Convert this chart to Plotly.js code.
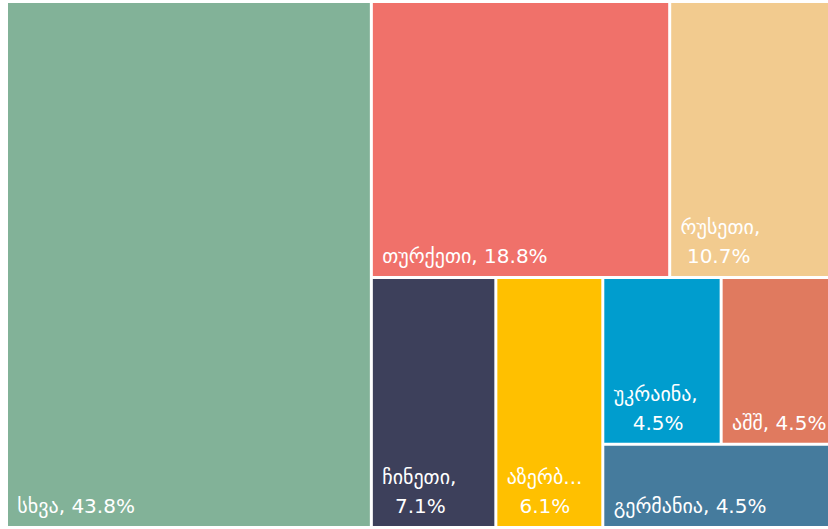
<!DOCTYPE html>
<html>
<head>
<meta charset="utf-8">
<script src="https://cdn.plot.ly/plotly-3.0.1.min.js"></script>
<style>html,body{margin:0;padding:0;background:#fff;overflow:hidden;}#chart{width:838px;height:529px;}</style>
</head>
<body>
<div id="chart"></div>
<script>
// Countries (leaves) and their shares, %
var countries = ["სხვა", "თურქეთი", "რუსეთი", "ჩინეთი", "აზერბაიჯანი", "უკრაინა", "აშშ", "გერმანია"];
var shownNames = ["სხვა", "თურქეთი", "რუსეთი", "ჩინეთი", "აზერბ...", "უკრაინა", "აშშ", "გერმანია"];
var shares = [43.8, 18.8, 10.7, 7.1, 6.1, 4.5, 4.5, 4.5];
var colors = ["#82B298", "#F0716A", "#F2CB8F", "#3D405B", "#FFC000", "#009DCE", "#E07A5F", "#457B9D"];
var twoLines = [false, false, true, true, true, true, false, false];
// grouping of tiles (as arranged in the reference)
var leafParents = ["all", "top", "top", "bottom", "bottom", "pair", "pair", "block"];
var groupIds = ["all", "rest", "top", "bottom", "block", "pair"];
var groupParents = ["", "all", "rest", "rest", "bottom", "block"];
// order in which the nodes are listed (children keep this order)
var nodeOrder = ["all", "სხვა", "rest", "top", "თურქეთი", "რუსეთი", "bottom",
  "ჩინეთი", "აზერბაიჯანი", "block", "pair", "უკრაინა", "აშშ", "გერმანია"];

var FONT = "DejaVu Sans";
var FS = 20;
var NB = "\u00a0";
var cv = document.createElement("canvas").getContext("2d");
cv.font = FS + "px '" + FONT + "'";
function w(s) { return cv.measureText(s).width; }
function span(s) { return '<span style="font-size:' + FS + 'px">' + s + '</span>'; }

var ids = [], parents = [], labels = [], values = [], texts = [], mcolors = [];
nodeOrder.forEach(function (key) {
  var gi = groupIds.indexOf(key);
  if (gi >= 0) {
    ids.push(key); parents.push(groupParents[gi]); labels.push(""); values.push(0);
    texts.push(""); mcolors.push("#ffffff");
    return;
  }
  var i = countries.indexOf(key);
  ids.push(key); parents.push(leafParents[i]); labels.push(key); values.push(shares[i]);
  var name = shownNames[i];
  var sep = name.slice(-3) === "..." ? "" : ",";
  var pct = shares[i].toFixed(1) + "%";
  var t;
  if (twoLines[i]) {
    var l1 = name + sep, l2 = pct;
    var n = Math.max(0, Math.round((w(l1) - w(l2)) / 2 / w(NB)));
    t = span(NB + l1) + "<br><br><br>" + span(NB + new Array(n + 1).join(NB) + l2);
  } else {
    t = span(NB + name + sep + " " + pct);
  }
  texts.push(t + '<br><span style="font-size:2px">' + NB + '</span>');
  mcolors.push(colors[i]);
});

var trace = {
  type: "treemap",
  ids: ids,
  parents: parents,
  labels: labels,
  values: values,
  text: texts,
  texttemplate: "%{text}",
  textposition: "bottom left",
  branchvalues: "remainder",
  sort: false,
  tiling: { packing: "slice-dice", pad: 3 },
  marker: {
    colors: mcolors,
    line: { width: 0, color: "#ffffff" },
    pad: { t: 0, l: 0, r: 0, b: 0 },
    depthfade: false
  },
  leaf: { opacity: 1 },
  pathbar: { visible: false },
  textfont: { family: FONT, size: 7.5, color: "#ffffff" },
  hoverinfo: "none"
};

Plotly.newPlot("chart", [trace], {
  width: 838, height: 529,
  margin: { l: 8, r: 0, t: 3, b: 3 },
  paper_bgcolor: "#ffffff",
  showlegend: false
}, { displayModeBar: false, staticPlot: true });
</script>
</body>
</html>
